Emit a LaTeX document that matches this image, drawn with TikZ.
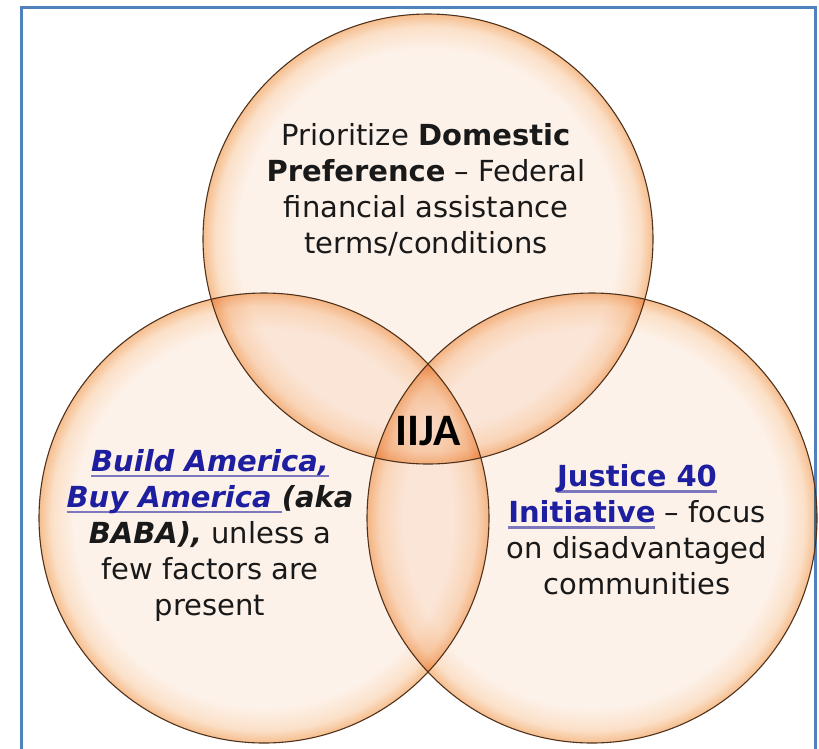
\documentclass[tikz,border=0pt]{standalone}
\usepackage{fontspec}
\setmainfont{DejaVu Sans}
\newfontfamily\iijafont{Carlito}
\usetikzlibrary{positioning}

\definecolor{vennpale}{RGB}{253,242,234}
\definecolor{vennmid}{RGB}{251,224,200}
\definecolor{vennedge}{RGB}{246,190,142}
\definecolor{vennline}{RGB}{80,50,28}
\definecolor{framecol}{RGB}{79,129,189}
\definecolor{linkblue}{RGB}{30,30,160}
\definecolor{ulpurple}{RGB}{125,120,190}

\pgfdeclareradialshading{vennglow}{\pgfpoint{0bp}{0bp}}{color(0bp)=(vennpale); color(21bp)=(vennpale); color(23.6bp)=(vennmid); color(25bp)=(vennedge); color(50bp)=(vennedge)}

\newsavebox\ulsave
\newcommand{\ulink}[1]{\sbox\ulsave{#1}\rlap{\color{ulpurple}\rule[-6pt]{\wd\ulsave}{2.5pt}}\usebox\ulsave}

\tikzset{
  vennset/.style={circle, minimum size=450pt, inner sep=0pt, outer sep=0pt, shading=vennglow, blend mode=multiply},
  vennrim/.style={draw=vennline, line width=1.1pt},
  venntext/.style={align=center, font=\fontsize{29}{36}\selectfont, text=black!90},
  frame/.style={draw=framecol, line width=3pt}
}

\begin{document}
\begin{tikzpicture}[x=1pt, y=-1pt]
  \useasboundingbox (0,0) rectangle (819,748);
  \draw[frame] (21,760) |- (815,7) -- (815,760);

  % the three sets
  \node[vennset] (domestic) at (428,239) {};
  \node[vennset] (baba) at (264,518) {};
  \node[vennset] (justice) at (592,518) {};
  \foreach \c in {domestic,baba,justice}
    \draw[vennrim] (\c.center) circle[radius=225];

  % texts
  \node[venntext] (domestictext) at (426,190)
    {Prioritize \textbf{Domestic}\\\textbf{Preference} -- Federal\\financial assistance\\terms/conditions};
  \node[venntext] (babatext) at (210,535)
    {\ulink{\textcolor{linkblue}{\bfseries\itshape Build America,}}\\
     \ulink{\textcolor{linkblue}{\bfseries\itshape Buy America\ }}{\bfseries\itshape(aka}\\
     {\bfseries\itshape BABA),} unless a\\few factors are\\present};
  \node[venntext] (justicetext) at (637,530)
    {\ulink{\textcolor{linkblue}{\bfseries Justice 40}}\\
     \ulink{\textcolor{linkblue}{\bfseries Initiative}} -- focus\\on disadvantaged\\communities};
  \node[font=\iijafont\bfseries\fontsize{45}{45}\selectfont] (iija) at (428,431) {IIJA};
\end{tikzpicture}
\end{document}
